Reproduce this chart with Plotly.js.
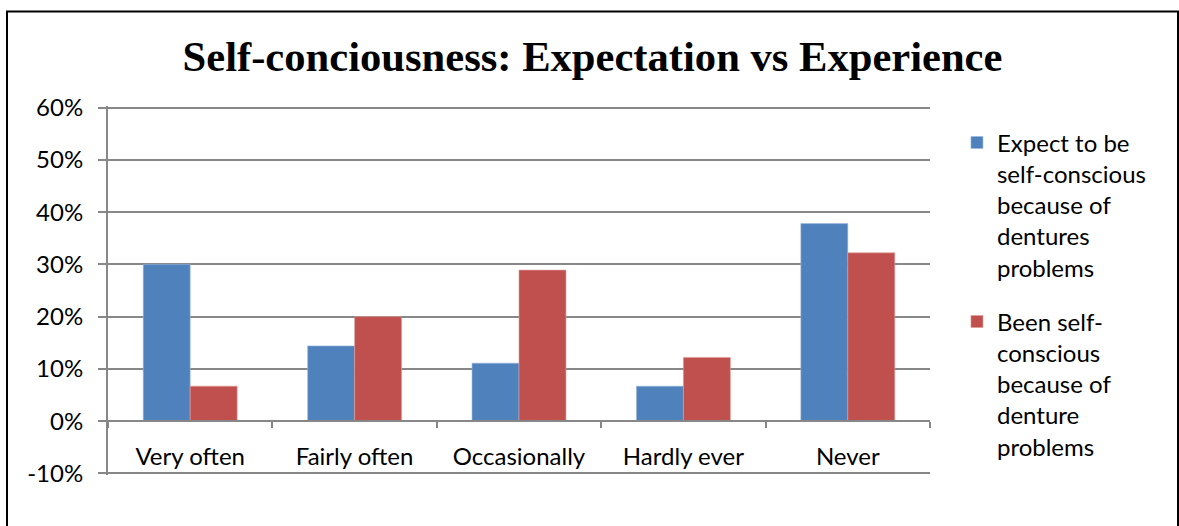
<!DOCTYPE html>
<html>
<head>
<meta charset="utf-8">
<script src="https://cdn.plot.ly/plotly-3.0.1.min.js"></script>
<style>html,body{margin:0;padding:0;background:#fff;}#chart{width:1179px;height:526px;}</style>
</head>
<body>
<div id="chart"></div>
<script>
const categories = ["Very often", "Fairly often", "Occasionally", "Hardly ever", "Never"];
const expectValues = [30.0, 14.4, 11.1, 6.7, 37.8];
const beenValues = [6.7, 20.0, 28.9, 12.2, 32.2];
const seriesNames = [
  "Expect to be<br>self-conscious<br>because of<br>dentures<br>problems",
  "Been self-<br>conscious<br>because of<br>denture<br>problems"
];
const yTickValues = [-10, 0, 10, 20, 30, 40, 50, 60];
const yTickLabels = ["-10%", "0%", "10%", "20%", "30%", "40%", "50%", "60%"];

const font = "Lato, 'Open Sans', sans-serif";
const gridColor = "#878787";

const traces = [
  {type: "bar", x: categories, y: expectValues, name: seriesNames[0], legendgroup: "a",
   marker: {color: "#4F81BD", line: {color: "#9db8dd", width: 0.6}}, hoverinfo: "skip"},
  {type: "bar", x: categories, y: beenValues, name: seriesNames[1], legendgroup: "b",
   marker: {color: "#C0504D", line: {color: "#e09a98", width: 0.6}}, hoverinfo: "skip"}
];

const mT = 106.4, mB = 51.4;
const plotH = 526 - mT - mB;
const layout = {
  width: 1179, height: 526,
  margin: {l: 108, r: 249, t: mT, b: mB},
  paper_bgcolor: "#fff", plot_bgcolor: "#fff",
  font: {family: font, size: 24, color: "#000"},
  title: {text: "<b>Self-conciousness: Expectation vs Experience</b>",
          font: {family: "'Liberation Serif', 'Times New Roman', serif", size: 42.6, color: "#000"},
          x: 592.5 / 1179, xanchor: "center", xref: "container",
          y: 1 - 56 / 526, yanchor: "middle", yref: "container"},
  barmode: "group", bargap: 0.4286, bargroupgap: 0,
  xaxis: {type: "category", anchor: "free", position: 10.3 / 70.6,
          showline: true, linecolor: gridColor, linewidth: 2,
          ticks: "outside", tickson: "boundaries", ticklen: 6, tickcolor: gridColor, tickwidth: 2,
          showgrid: false, zeroline: false, ticklabelstandoff: 14,
          tickfont: {family: font, size: 24, color: "#000"}},
  yaxis: {range: [-10.3, 60.3], tickmode: "array", tickvals: yTickValues, ticktext: yTickLabels,
          showline: true, linecolor: gridColor, linewidth: 2,
          ticks: "outside", ticklen: 8, tickcolor: gridColor, tickwidth: 2,
          showgrid: true, gridcolor: gridColor, gridwidth: 2, zeroline: false,
          ticklabelstandoff: 10,
          tickfont: {family: font, size: 24, color: "#000"}},
  showlegend: true,
  legend: {x: 1.0328, xanchor: "left", y: 0.961, yanchor: "top",
           traceorder: "grouped", tracegroupgap: 20, valign: "top",
           font: {family: font, size: 24, color: "#000"}, bgcolor: "rgba(0,0,0,0)"},
  shapes: [
    {type: "rect", xref: "paper", yref: "paper",
     x0: (7 - 108) / 822, x1: (1178 - 108) / 822,
     y0: -0.2, y1: (526 - mB - 12) / plotH,
     line: {color: "#000", width: 2}, fillcolor: "rgba(0,0,0,0)", layer: "above"}
  ]
};

Plotly.newPlot("chart", traces, layout, {displayModeBar: false, staticPlot: true});
</script>
</body>
</html>
